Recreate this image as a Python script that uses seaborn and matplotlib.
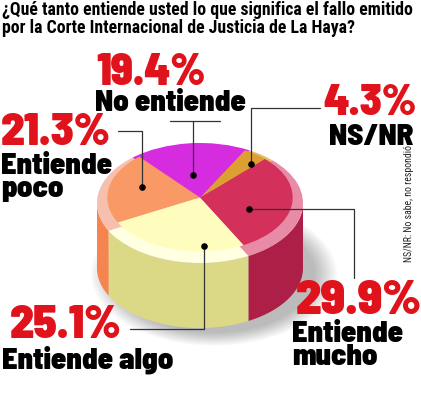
import numpy as np
import matplotlib
matplotlib.use("Agg")
import matplotlib.pyplot as plt
from matplotlib.patches import Ellipse
from matplotlib.transforms import Affine2D
import seaborn as sns

# data
categories = ["Entiende mucho", "NS/NR", "No entiende", "Entiende poco", "Entiende algo"]
values = [29.9, 4.3, 19.4, 21.3, 25.1]
pct_labels = ["29.9%", "4.3%", "19.4%", "21.3%", "25.1%"]
name_labels = ["Entiende\nmucho", "NS/NR", "No entiende", "Entiende\npoco", "Entiende algo"]

top_colors = ["#D3305B", "#DCA032", "#D52CE0", "#F99A66", "#FFFDBD"]
rim_colors = ["#E88BA6", "#E8BB66", "#D52CE0", "#F7BFAE", "#FFFFE2"]
side_colors = ["#AE1F47", "#B88020", "#A820B0", "#F5844F", "#DCD986"]

title = ("¿Qué tanto entiende usted lo que significa el fallo emitido\n"
         "por la Corte Internacional de Justicia de La Haya?")
note = "NS/NR: No sabe, no respondió"

sns.set_theme(style="white")
plt.rcParams["font.family"] = ["Roboto Condensed", "DejaVu Sans"]
big_font = ["Barlow Semi Condensed", "DejaVu Sans"]

W, H = 421, 400
fig = plt.figure(figsize=(W / 100, H / 100), dpi=100)
ax = fig.add_axes([0, 0, 1, 1])


def Y(py):
    return H - py


# pie geometry (pixels)
cx, cy = 200, Y(203)
R = 103
ratio = 60 / R
depth = 65
inner = 0.9
lift = 5.5
start = -62

squash = Affine2D().translate(-cx, -cy).scale(1, ratio).translate(cx, cy)

# soft shadow
for k in range(12):
    w = 2 * R + 40 - k * 4
    e = Ellipse((cx + 14, cy - depth - 6), w, w * ratio,
                color="black", alpha=0.025, lw=0, zorder=0)
    ax.add_patch(e)

# side walls
bounds = start + 360 * np.concatenate([[0], np.cumsum(values)]) / sum(values)
for i in range(len(values)):
    a, b = bounds[i], bounds[i + 1]
    for lo, hi in [(180, 360), (-180, 0), (540, 720)]:
        s, t = max(a, lo), min(b, hi)
        if t > s:
            th = np.radians(np.linspace(s, t, 60))
            xs = cx + R * np.cos(th)
            ys = cy + R * ratio * np.sin(th)
            ax.fill(np.concatenate([xs, xs[::-1]]),
                    np.concatenate([ys, ys[::-1] - depth]),
                    color=side_colors[i], lw=0, zorder=1)

# rim (outer) and top (inner) faces
outer, _ = ax.pie(values, colors=rim_colors, startangle=start, center=(cx, cy),
                  radius=R, frame=True, wedgeprops=dict(lw=0))
for w in outer:
    w.set_transform(squash + ax.transData)
    w.set_zorder(2)
top, _ = ax.pie(values, colors=top_colors, startangle=start, center=(cx, cy),
                radius=R * inner, frame=True, wedgeprops=dict(lw=0))
lift_t = squash + Affine2D().translate(0, lift) + ax.transData
for w in top:
    w.set_transform(lift_t)
    w.set_zorder(3)

# leader dots: (fraction along slice, radius fraction)
dot_pos = [(0.467, 0.49), (0.456, 0.82), (0.535, 0.47), (0.307, 0.62), (0.723, 0.72)]
dots = []
for i, (f, r) in enumerate(dot_pos):
    ang = np.radians(bounds[i] + f * (bounds[i + 1] - bounds[i]))
    dots.append((cx + R * r * np.cos(ang), cy + R * r * ratio * np.sin(ang)))

lc = "#333333"
dx, dy = dots[0]
ax.plot([dx, 354, 354], [dy, dy, Y(278)], color=lc, lw=0.9, zorder=4)
dx, dy = dots[1]
ax.plot([dx, dx, 320], [dy, Y(108), Y(108)], color=lc, lw=0.9, zorder=4)
dx, dy = dots[2]
ax.plot([dx, dx], [dy, Y(121)], color=lc, lw=0.9, zorder=4)
ax.plot([170, 220], [Y(121), Y(121)], color=lc, lw=0.9, zorder=4)
dx, dy = dots[3]
ax.plot([dx, dx, 118], [dy, Y(131), Y(131)], color=lc, lw=0.9, zorder=4)
dx, dy = dots[4]
ax.plot([dx, dx, 130], [dy, Y(329), Y(329)], color=lc, lw=0.9, zorder=4)
ax.scatter([d[0] for d in dots], [d[1] for d in dots], s=14, color="black", zorder=5)

# labels: (pct x, pct y, align, name x, name y, pct size)
red = "#E0121B"
lab = [
    (296, 280, "left", 292, 321, 35.5),
    (417, 84, "right", 414, 124, 31.5),
    (96, 53, "left", 95, 90, 32),
    (1, 113, "left", 1, 153, 33),
    (10, 305, "left", 2, 345, 33.5),
]
for i, (px, py, ha, nx, ny, fs) in enumerate(lab):
    ax.text(px, Y(py), pct_labels[i], color=red, fontsize=fs, fontweight=900,
            family=big_font, ha=ha, va="top", zorder=6)
    ax.text(nx, Y(ny), name_labels[i], color="black", fontsize=22, fontweight=900,
            family=big_font, ha=ha, va="top", linespacing=0.86, zorder=6)

ax.text(2, Y(1), title, fontsize=12.8, fontweight=900, ha="left", va="top",
        linespacing=0.98, color="black")
ax.text(409, Y(204), note, fontsize=7, rotation=90, ha="center", va="center",
        color="#222222")

ax.set_xlim(0, W)
ax.set_ylim(0, H)
ax.set_aspect("auto")
ax.axis("off")
fig.savefig("out.png", dpi=100)
